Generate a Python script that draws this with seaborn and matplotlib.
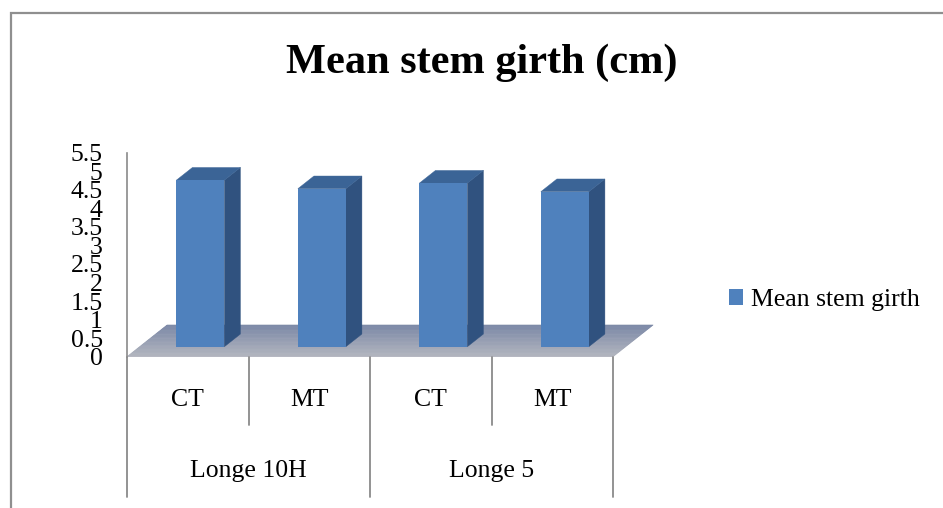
import numpy as np
import pandas as pd
import matplotlib
matplotlib.use("Agg")
import matplotlib.pyplot as plt
from matplotlib.patches import Polygon, Patch, Rectangle
from matplotlib.collections import PolyCollection
from matplotlib.ticker import FixedLocator, FuncFormatter
import seaborn as sns

# ---- data ----
TITLE = "Mean stem girth (cm)"
SERIES_NAME = "Mean stem girth"
VARIETIES = ["Longe 10H", "Longe 10H", "Longe 5", "Longe 5"]
TREATMENTS = ["CT", "MT", "CT", "MT"]
GIRTH = [4.49, 4.26, 4.41, 4.18]
Y_TICKS = [0, 0.5, 1, 1.5, 2, 2.5, 3, 3.5, 4, 4.5, 5, 5.5]

# ---- style ----
FRONT = "#4f81bd"
SIDE = "#30527f"
TOP = "#3b6496"
FLOOR_FRONT = np.array([0xb3, 0xb6, 0xbf]) / 255
FLOOR_BACK = np.array([0x7a, 0x87, 0xa6]) / 255
AXIS_GREY = "#8a8a8a"
BAR_W = 0.395
DEPTH_X, DEPTH_Y = 0.33, 0.855        # floor depth vector (data units)
BAR_START, BAR_DEPTH = 0.315, 0.40    # bar position along the floor depth

sns.set_style("white")
plt.rcParams["font.family"] = ["Liberation Serif", "DejaVu Serif"]
plt.rcParams["text.color"] = "black"
plt.rcParams["axes.labelcolor"] = "black"
plt.rcParams["ytick.color"] = "black"

df = pd.DataFrame({"variety": VARIETIES, "treatment": TREATMENTS, "girth": GIRTH})
df["slot"] = [f"{v} | {t}" for v, t in zip(VARIETIES, TREATMENTS)]

fig = plt.figure(figsize=(9.43, 5.08), dpi=100)
ax = fig.add_axes([127 / 943, 151.3 / 508, 486 / 943, 204 / 508])

sns.barplot(data=df, x="slot", y="girth", order=list(df["slot"]), color=FRONT,
            width=BAR_W, linewidth=0, errorbar=None, saturation=1, ax=ax, zorder=4)
bars = list(ax.patches)

ax.set_xlim(-0.5, 3.5)
ax.set_ylim(0, 5.5)

# floor: shaded parallelogram
n_strips = 40
x0, x1 = -0.5, len(df) - 0.5
polys, colors = [], []
for k in range(n_strips):
    t0, t1 = k / n_strips, (k + 1) / n_strips
    polys.append([(x0 + DEPTH_X * t0, DEPTH_Y * t0), (x1 + DEPTH_X * t0, DEPTH_Y * t0),
                  (x1 + DEPTH_X * t1, DEPTH_Y * t1), (x0 + DEPTH_X * t1, DEPTH_Y * t1)])
    tm = (t0 + t1) / 2
    colors.append(FLOOR_FRONT * (1 - tm) + FLOOR_BACK * tm)
floor = PolyCollection(polys, facecolors=colors, edgecolors=colors, linewidths=0.4,
                       zorder=1, clip_on=False)
ax.add_collection(floor)

# bars: move the front faces onto the floor and add side and top faces
ox, oy = DEPTH_X * BAR_START, DEPTH_Y * BAR_START
bx, by = DEPTH_X * BAR_DEPTH, DEPTH_Y * BAR_DEPTH
for p in bars:
    p.set_x(p.get_x() + ox)
    p.set_y(p.get_y() + oy)
    p.set_clip_on(False)
    x, w, y0, h = p.get_x(), p.get_width(), p.get_y(), p.get_height()
    side = Polygon([(x + w, y0), (x + w + bx, y0 + by), (x + w + bx, y0 + by + h),
                    (x + w, y0 + h)], closed=True, fc=SIDE, ec=SIDE, lw=0.3,
                   zorder=3, clip_on=False)
    top = Polygon([(x, y0 + h), (x + bx, y0 + h + by), (x + w + bx, y0 + h + by),
                   (x + w, y0 + h)], closed=True, fc=TOP, ec=TOP, lw=0.3,
                  zorder=3, clip_on=False)
    ax.add_patch(side)
    ax.add_patch(top)

# axes styling
for s in ["top", "right", "bottom"]:
    ax.spines[s].set_visible(False)
ax.spines["left"].set_color(AXIS_GREY)
ax.spines["left"].set_linewidth(1.2)
ax.yaxis.set_major_locator(FixedLocator(Y_TICKS))
ax.yaxis.set_major_formatter(FuncFormatter(lambda v, _: f"{v:g}"))
ax.tick_params(axis="y", direction="out", length=6.5, width=1, color=AXIS_GREY,
               pad=11, labelsize=18.5, labelcolor="black")
ax.tick_params(axis="x", bottom=False, labelbottom=False)
ax.set_xlabel("")
ax.set_ylabel("")
ax.patch.set_visible(False)

# two-level category axis
inner_y, outer_y = -1.84, -3.78
for i in range(len(df) + 1):
    b = i - 0.5
    is_group_edge = i == 0 or i == len(df) or VARIETIES[i] != VARIETIES[i - 1]
    ax.plot([b, b], [0, outer_y if is_group_edge else inner_y], color=AXIS_GREY,
            lw=1.3, clip_on=False, zorder=2)
for i, t in enumerate(TREATMENTS):
    ax.text(i, -1.33, t, ha="center", va="baseline", fontsize=18.5,
            color="black", clip_on=False)
for v in dict.fromkeys(VARIETIES):
    idx = [i for i, vv in enumerate(VARIETIES) if vv == v]
    ax.text(np.mean(idx), -3.23, v, ha="center", va="baseline", fontsize=18.5,
            color="black", clip_on=False)

# legend
leg = ax.legend(handles=[Patch(facecolor=FRONT, edgecolor="none", label=SERIES_NAME)],
                loc="center left", bbox_to_anchor=(729 / 943, 208 / 508),
                bbox_transform=fig.transFigure, frameon=False, fontsize=18.5,
                handlelength=0.55, handleheight=0.55, handletextpad=0.3,
                borderpad=0, borderaxespad=0, labelcolor="black")

# title
fig.text(0.511, (508 - 73.3) / 508, TITLE, ha="center", va="baseline",
         fontsize=30.5, fontweight="bold", color="black")

# chart-area border
fig.add_artist(Rectangle((10.5 / 943, -0.5), 2, 0.5 + (508 - 12.5) / 508,
                         transform=fig.transFigure, fill=False, ec="#8f8f8f",
                         lw=1.6))

fig.savefig("out.png", dpi=100)
